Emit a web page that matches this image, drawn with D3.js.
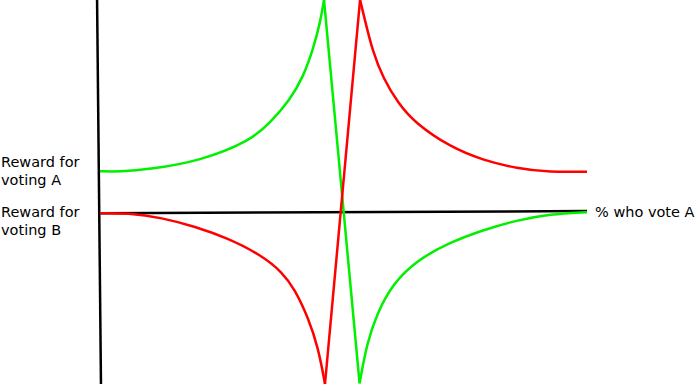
<!DOCTYPE html>
<html>
<head>
<meta charset="utf-8">
<script src="https://cdn.jsdelivr.net/npm/d3@7"></script>
<style>
  body { margin: 0; background: #fff; }
  text { font-family: "DejaVu Sans", sans-serif; font-size: 14.5px; fill: #000; }
</style>
</head>
<body>
<div id="chart"></div>
<script>
// x: % who vote A (0..100), y: reward (0 = axis, 100 = top of green peak)
const greenLeft = [[0, 19.3], [4, 19], [10.3, 20.2], [20.5, 24.1], [30.8, 33.5], [34.9, 42], [39, 52.8], [41.7, 63.7], [43.7, 76.4], [45.2, 89.2], [46, 100]];
const greenCross = [[46, 100], [53.3, -80.7]];
const greenRight = [[53.3, -80.7], [54.8, -61.8], [56.9, -47.6], [60.2, -33.5], [65.1, -22.6], [71.9, -14.2], [78.6, -8.5], [85.6, -3.8], [92.4, -0.9], [100, 0]];

const redLeft = [[0, -0.5], [5.7, -0.4], [12.7, -2.6], [19.5, -6.8], [26.3, -12.3], [33.3, -20.5], [37.4, -28.3], [40, -36.3], [42.7, -49.5], [44.8, -63.7], [46.2, -81]];
const redCross = [[46.2, -81], [53.4, 100]];
const redRight = [[53.4, 100], [54.4, 90.6], [55.9, 76.4], [58.1, 63.2], [61.2, 51.4], [64.7, 42], [71.9, 30.7], [78.6, 24.5], [85.6, 20.6], [92.4, 18.8], [100, 19.1]];

const xAxisLine = [[0, -0.5], [100, 0.5]];
const yAxisLine = [[-0.6, 100], [0.2, -81]];

const yLabels = [
  { lines: ["Reward for", "voting A"], at: 21.2 },
  { lines: ["Reward for", "voting B"], at: -2.4 }
];
const xLabel = "% who vote A";

const width = 696, height = 386;

const svg = d3.select("#chart").append("svg")
  .attr("width", width)
  .attr("height", height);

const xScale = d3.scaleLinear().domain([0, 100]).range([100, 587]);
const yScale = d3.scaleLinear().domain([-81, 100]).range([384, 0]);

const straight = d3.line()
  .x(d => xScale(d[0]))
  .y(d => yScale(d[1]));

const smooth = d3.line()
  .x(d => xScale(d[0]))
  .y(d => yScale(d[1]))
  .curve(d3.curveBasis);

// axes
[xAxisLine, yAxisLine].forEach(seg => {
  svg.append("path")
    .attr("d", straight(seg))
    .attr("fill", "none")
    .attr("stroke", "#000")
    .attr("stroke-width", 2.5);
});

function drawSeries(color, parts) {
  parts.forEach(([pts, gen]) => {
    svg.append("path")
      .attr("d", gen(pts))
      .attr("fill", "none")
      .attr("stroke", color)
      .attr("stroke-width", 2.5);
  });
}

drawSeries("#00f000", [[greenLeft, smooth], [greenCross, straight], [greenRight, smooth]]);
drawSeries("#ff0000", [[redLeft, smooth], [redCross, straight], [redRight, smooth]]);

yLabels.forEach(l => {
  const t = svg.append("text")
    .attr("x", 1)
    .attr("y", yScale(l.at));
  l.lines.forEach((s, i) => {
    t.append("tspan")
      .attr("x", 1)
      .attr("dy", i === 0 ? 0 : 18)
      .text(s);
  });
});

svg.append("text")
  .attr("x", xScale(100) + 8)
  .attr("y", yScale(0) + 5)
  .text(xLabel);
</script>
</body>
</html>
